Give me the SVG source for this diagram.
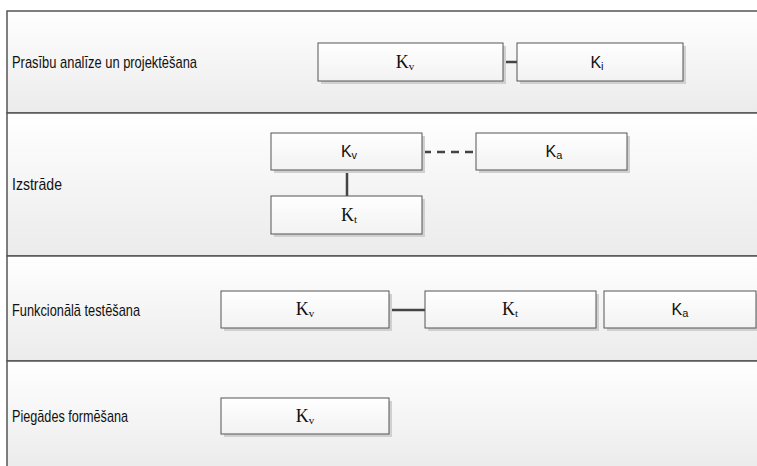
<svg xmlns="http://www.w3.org/2000/svg" width="757" height="466" viewBox="0 0 757 466">
  <style>
    .lane { fill: url(#laneFill); stroke: #555; stroke-width: 1.5; }
    .box { fill: url(#boxFill); stroke: #555; stroke-width: 1; }
    .shadow { fill: #d0d0d0; }
    .lbl { font-family: "Liberation Sans", Arial, sans-serif; font-size: 17px; fill: #111; }
    .ks { font-family: "Liberation Sans", Arial, sans-serif; font-size: 16px; fill: #111; text-anchor: middle; }
    .kr { font-family: "Liberation Serif", "Times New Roman", serif; font-size: 18px; fill: #111; text-anchor: middle; }
    .sub { font-size: 11px; }
    .conn { stroke: #444; stroke-width: 2.5; fill: none; }
    .dash { stroke-dasharray: 8 6; }
  </style>
  <defs>
    <linearGradient id="laneFill" x1="0" y1="0" x2="0" y2="1">
      <stop offset="0" stop-color="#ffffff"/>
      <stop offset="1" stop-color="#ebebeb"/>
    </linearGradient>
    <linearGradient id="boxFill" x1="0" y1="0" x2="0" y2="1">
      <stop offset="0" stop-color="#ffffff"/>
      <stop offset="1" stop-color="#f2f2f2"/>
    </linearGradient>
  </defs>

  <rect width="757" height="466" fill="#ffffff"/>

  <!-- swimlanes -->
  <g id="lane-1">
    <rect class="lane" x="7" y="11" width="752" height="102"/>
    <text class="lbl" x="12" y="68" textLength="185" lengthAdjust="spacingAndGlyphs">Prasību analīze un projektēšana</text>
  </g>
  <g id="lane-2">
    <rect class="lane" x="7" y="113" width="752" height="143"/>
    <text class="lbl" x="12" y="190" textLength="50" lengthAdjust="spacingAndGlyphs">Izstrāde</text>
  </g>
  <g id="lane-3">
    <rect class="lane" x="7" y="256" width="752" height="105"/>
    <text class="lbl" x="12" y="316" textLength="128" lengthAdjust="spacingAndGlyphs">Funkcionālā testēšana</text>
  </g>
  <g id="lane-4">
    <rect class="lane" x="7" y="361" width="752" height="110"/>
    <text class="lbl" x="12" y="422" textLength="116" lengthAdjust="spacingAndGlyphs">Piegādes formēšana</text>
  </g>

  <!-- connectors -->
  <g id="connectors">
    <line class="conn" x1="503" y1="62" x2="517" y2="62"/>
    <line class="conn dash" x1="423" y1="152" x2="476" y2="152"/>
    <line class="conn" x1="347" y1="170" x2="347" y2="196"/>
    <line class="conn" x1="389" y1="310" x2="425" y2="310"/>
  </g>

  <!-- lane 1 nodes -->
  <g id="p-kv">
    <rect class="shadow" x="321" y="46" width="185" height="38"/>
    <rect class="box" x="318" y="43" width="185" height="38"/>
    <text class="kr" x="405" y="68">K<tspan class="sub" dy="2">v</tspan></text>
  </g>
  <g id="p-ki">
    <rect class="shadow" x="520" y="46" width="166" height="38"/>
    <rect class="box" x="517" y="43" width="166" height="38"/>
    <text class="ks" x="597" y="68">K<tspan class="sub" dy="2">i</tspan></text>
  </g>

  <!-- lane 2 nodes -->
  <g id="i-kv">
    <rect class="shadow" x="274" y="136" width="151" height="37"/>
    <rect class="box" x="271" y="133" width="151" height="37"/>
    <text class="ks" x="349" y="157">K<tspan class="sub" dy="2">v</tspan></text>
  </g>
  <g id="i-ka">
    <rect class="shadow" x="479" y="136" width="151" height="37"/>
    <rect class="box" x="476" y="133" width="151" height="37"/>
    <text class="ks" x="554" y="157">K<tspan class="sub" dy="2">a</tspan></text>
  </g>
  <g id="i-kt">
    <rect class="shadow" x="274" y="199" width="151" height="38"/>
    <rect class="box" x="271" y="196" width="151" height="38"/>
    <text class="kr" x="349" y="221">K<tspan class="sub" dy="2">t</tspan></text>
  </g>

  <!-- lane 3 nodes -->
  <g id="f-kv">
    <rect class="shadow" x="224" y="294" width="168" height="37"/>
    <rect class="box" x="221" y="291" width="168" height="37"/>
    <text class="kr" x="305" y="315">K<tspan class="sub" dy="2">v</tspan></text>
  </g>
  <g id="f-kt">
    <rect class="shadow" x="428" y="294" width="171" height="37"/>
    <rect class="box" x="425" y="291" width="171" height="37"/>
    <text class="kr" x="510" y="315">K<tspan class="sub" dy="2">t</tspan></text>
  </g>
  <g id="f-ka">
    <rect class="shadow" x="607" y="294" width="153" height="37"/>
    <rect class="box" x="604" y="291" width="152" height="37"/>
    <text class="ks" x="680" y="315">K<tspan class="sub" dy="2">a</tspan></text>
  </g>

  <!-- lane 4 nodes -->
  <g id="d-kv">
    <rect class="shadow" x="224" y="401" width="168" height="36"/>
    <rect class="box" x="221" y="398" width="168" height="36"/>
    <text class="kr" x="305" y="422">K<tspan class="sub" dy="2">v</tspan></text>
  </g>
</svg>
